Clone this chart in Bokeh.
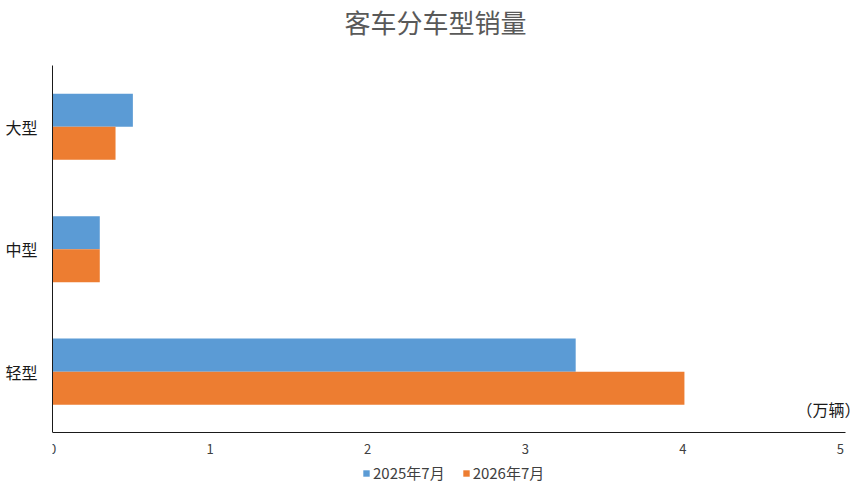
from bokeh.plotting import figure
from bokeh.models import ColumnDataSource, Range1d, FixedTicker, Label, Legend, LegendItem, Title
from bokeh.transform import dodge
from bokeh.embed import file_html
from bokeh.resources import INLINE

categories = ["轻型", "中型", "大型"]
series_names = ["2025年7月", "2026年7月"]
values_2025 = [3.32, 0.30, 0.51]
values_2026 = [4.01, 0.30, 0.40]
x_ticks = [0, 1, 2, 3, 4, 5]
colors = ["#5B9BD5", "#ED7D31"]
FONT = "Noto Sans CJK SC"

cat_pos = [i + 0.5 for i in range(len(categories))]
source = ColumnDataSource(data=dict(y=cat_pos, v2025=values_2025, v2026=values_2026))

p = figure(frame_width=810, frame_height=418, output_backend="svg", toolbar_location=None,
           title=None, y_range=Range1d(-0.413, 3.0), x_range=Range1d(0, 5.14),
           min_border_left=52, min_border_right=3, min_border_top=65, min_border_bottom=0)

r1 = p.hbar(y=dodge("y", 0.135), right="v2025", left=0, height=0.27,
            source=source, color=colors[0], line_color=None)
r2 = p.hbar(y=dodge("y", -0.135), right="v2026", left=0, height=0.27,
            source=source, color=colors[1], line_color=None)

p.outline_line_color = None
p.xgrid.visible = False
p.ygrid.visible = False

spacer = Title(text=" ", text_font=FONT, text_font_size="16px", standoff=0)
p.add_layout(spacer, "above")
main_title = Title(text="客车分车型销量", text_font=FONT, text_font_size="26px",
                   text_font_style="normal", text_color="#595959", align="left",
                   offset=292, standoff=0)
p.add_layout(main_title, "above")

p.xaxis.fixed_location = 0
p.xaxis.ticker = FixedTicker(ticks=x_ticks)
p.xaxis.bounds = (0, 5.03)
p.xaxis.major_tick_line_color = None
p.xaxis.minor_tick_line_color = None
p.xaxis.major_tick_out = 0
p.xaxis.major_label_standoff = 11
p.xaxis.major_label_text_font = FONT
p.xaxis.major_label_text_font_size = "13px"
p.xaxis.major_label_text_color = "#404040"
p.xaxis.axis_line_color = "#1a1a1a"

p.yaxis.ticker = FixedTicker(ticks=cat_pos)
p.yaxis.major_label_overrides = {pos: name for pos, name in zip(cat_pos, categories)}
p.yaxis.bounds = (0, 3)
p.yaxis.major_tick_line_color = None
p.yaxis.minor_tick_line_color = None
p.yaxis.major_tick_out = 0
p.yaxis.major_label_standoff = 15
p.yaxis.major_label_text_font = FONT
p.yaxis.major_label_text_font_size = "16px"
p.yaxis.major_label_text_color = "#1a1a1a"
p.yaxis.axis_line_color = "#1a1a1a"

unit = Label(x=5.14, y=75, x_units="data", y_units="screen", x_offset=-2, text="（万辆）",
             text_font=FONT, text_font_size="16px", text_color="#1a1a1a",
             text_align="right", text_baseline="middle")
p.add_layout(unit)

legend = Legend(items=[LegendItem(label=series_names[0], renderers=[r1]),
                       LegendItem(label=series_names[1], renderers=[r2])],
                location=(310, 0), orientation="horizontal",
                label_text_font=FONT, label_text_font_size="15px", label_text_color="#404040",
                glyph_width=8, glyph_height=8, label_standoff=3, spacing=17, label_height=14,
                padding=0, margin=0, border_line_color=None, background_fill_alpha=0)
p.add_layout(legend, "center")

open("out.html", "w").write(file_html(p, INLINE))
